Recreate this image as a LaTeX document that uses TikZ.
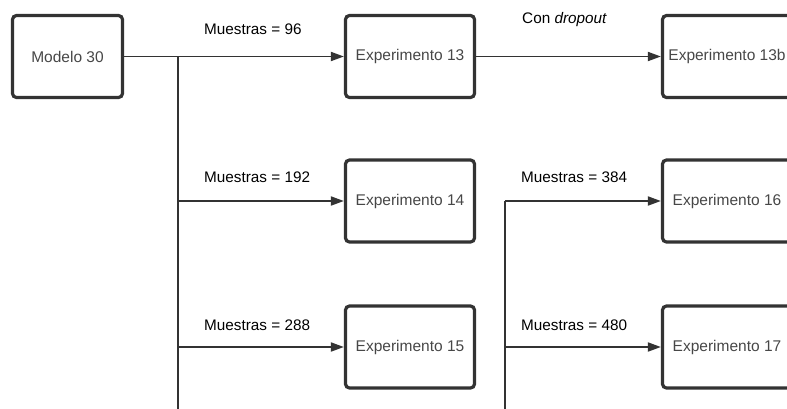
\documentclass[tikz,border=0pt]{standalone}
\usepackage{fontspec}
\setmainfont{Liberation Sans}
\usetikzlibrary{arrows.meta}
\definecolor{ink}{HTML}{333333}
\begin{document}
\begin{tikzpicture}[x=1pt,y=-1pt,
  box/.style={draw=ink, line width=3.2pt, rounded corners=4pt, inner sep=0pt,
    minimum width=129pt, minimum height=82pt, font=\fontsize{15.5}{18}\selectfont, text=ink!90},
  conn/.style={draw=ink, line width=1.8pt},
  arr/.style={conn, -{Triangle[length=13pt,width=9pt]}},
  lbl/.style={anchor=west, inner sep=0pt, font=\fontsize{15.3}{18}\selectfont, text=black}]
\useasboundingbox (0,0) rectangle (787,408);
\clip (0,0) rectangle (787,408);
\node[box, minimum width=110pt] (m30) at (67.5,56.5) {Modelo 30};
\node[box] (e13) at (410,56.5) {Experimento 13};
\node[box] (e13b) at (727,56.5) {Experimento 13b};
\node[box] (e14) at (410,201) {Experimento 14};
\node[box] (e16) at (727,201) {Experimento 16};
\node[box] (e15) at (410,347) {Experimento 15};
\node[box] (e17) at (727,347) {Experimento 17};
\coordinate (j1) at (178,56.5);
\coordinate (j1b) at (178,420);
\coordinate (j2) at (505,201);
\coordinate (j2b) at (505,420);
\draw[arr] (m30.east) -- (e13.west);
\draw[arr] (e13.east) -- (e13b.west);
\draw[conn] (j1) -- (j1b);
\draw[arr] (j1 |- e14.west) -- (e14.west);
\draw[arr] (j1 |- e15.west) -- (e15.west);
\draw[conn] (j2b) -- (j2);
\draw[arr] (j2) -- (e16.west);
\draw[arr] (j2 |- e17.west) -- (e17.west);
\node[lbl] (l96) at (204,29) {Muestras = 96};
\node[lbl] (lcd) at (522,20) {Con \textit{dropout}};
\node[lbl] (l192) at (204,177) {Muestras = 192};
\node[lbl] (l288) at (204,325) {Muestras = 288};
\node[lbl] (l384) at (521,177) {Muestras = 384};
\node[lbl] (l480) at (521,325) {Muestras = 480};
\end{tikzpicture}
\end{document}
